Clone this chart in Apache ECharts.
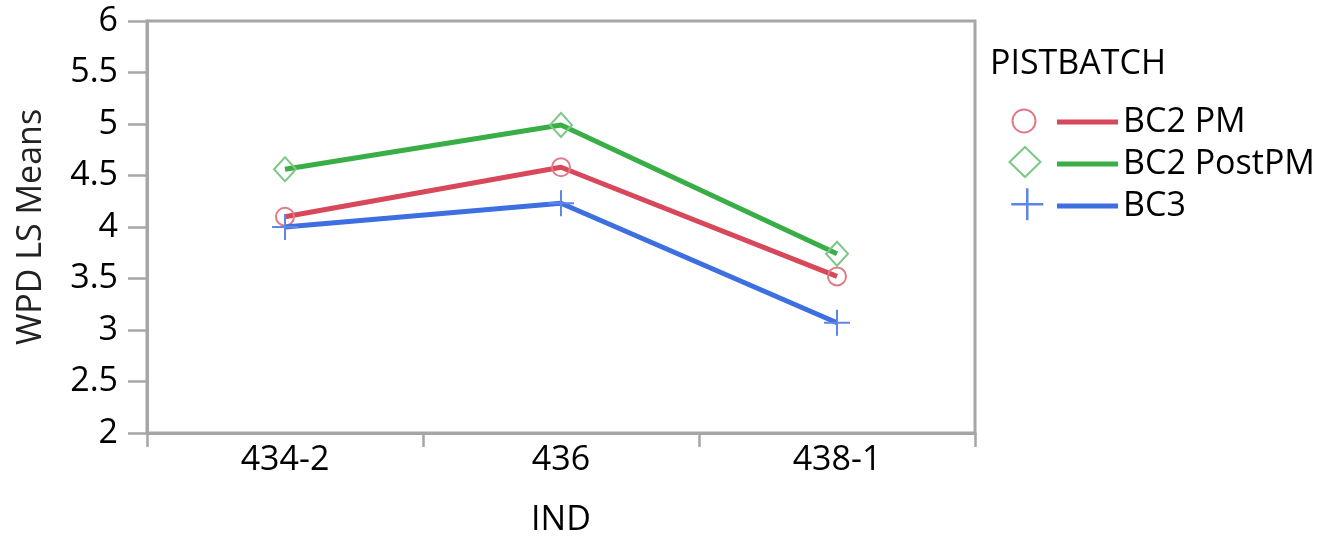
<!DOCTYPE html>
<html>
<head>
<meta charset="utf-8">
<script src="https://cdn.jsdelivr.net/npm/echarts@6/dist/echarts.min.js"></script>
<style>
html,body{margin:0;padding:0;background:#fff;}
#chart{width:1318px;height:536px;}
</style>
</head>
<body>
<div id="chart"></div>
<script>
// ---- data ----
var categories = ['434-2', '436', '438-1'];
var seriesNames = ['BC2 PM', 'BC2 PostPM', 'BC3'];
var bc2pm = [4.10, 4.58, 3.52];
var bc2postpm = [4.56, 4.99, 3.74];
var bc3 = [4.00, 4.23, 3.07];
var yTicks = { min: 2, max: 6, interval: 0.5 };
var legendTitle = 'PISTBATCH';
var xName = 'IND';
var yName = 'WPD LS Means';

// ---- styles ----
var FONT = '"Open Sans", "Noto Sans", sans-serif';
var FS = 34;
var AX = '#a6a6a6';
var lineColors = ['#d6485a', '#3aae46', '#3e6fe0'];
var markColors = ['#e07a86', '#7cc884', '#5f86e6'];
var plusPath = 'path://M0,10L20,10M10,0L10,20';
var symbols = ['circle', 'diamond', plusPath];
var symbolSizes = [18, [22, 24], 26];
var legendSym = [
  { w: 23, h: 23, left: 1011.5, top: 108.5 },
  { w: 31, h: 30, left: 1008.5, top: 146 },
  { w: 32, h: 32, left: 1010, top: 187 }
];
var values = [bc2pm, bc2postpm, bc3];

var chart = echarts.init(document.getElementById('chart'), null, { renderer: 'canvas' });

var series = seriesNames.map(function (n, i) {
  return {
    name: n,
    type: 'line',
    data: values[i],
    symbol: symbols[i],
    symbolSize: symbolSizes[i],
    showAllSymbol: true,
    lineStyle: { color: lineColors[i], width: 5 },
    itemStyle: { color: 'transparent', borderColor: markColors[i], borderWidth: 2 },
    emphasis: { disabled: true },
    z: 2 + i
  };
});

var legends = seriesNames.map(function (n, i) {
  var s = legendSym[i];
  return {
    show: true,
    left: s.left, top: s.top,
    padding: 0,
    itemWidth: s.w, itemHeight: s.h,
    selectedMode: false,
    formatter: function () { return ''; },
    textStyle: { fontSize: 1, padding: 0 },
    data: [{
      name: n,
      icon: symbols[i],
      itemStyle: { color: 'transparent', borderColor: markColors[i], borderWidth: i === 2 ? 2.5 : 2 }
    }]
  };
});
legends.push({
  show: true,
  orient: 'vertical',
  left: 1057, top: 105,
  padding: 0,
  itemWidth: 61, itemHeight: 5,
  itemGap: 8,
  selectedMode: false,
  textStyle: { fontFamily: FONT, fontSize: FS, color: '#000', lineHeight: 34, padding: [0, 0, 0, 0] },
  data: seriesNames.map(function (n, i) {
    return { name: n, icon: 'rect', itemStyle: { color: lineColors[i], borderWidth: 0 } };
  })
});

chart.setOption({
  animation: false,
  backgroundColor: '#fff',
  title: {
    text: legendTitle,
    left: 990, top: 47,
    padding: 0,
    textStyle: { fontFamily: FONT, fontSize: FS, fontWeight: 'normal', color: '#000' }
  },
  legend: legends,
  grid: {
    left: 147, right: 343, top: 21, bottom: 103,
    show: true, borderColor: AX, borderWidth: 3, backgroundColor: '#fff',
    containLabel: false,
    outerBoundsMode: 'none'
  },
  xAxis: {
    type: 'category',
    data: categories,
    boundaryGap: true,
    name: xName,
    nameLocation: 'middle',
    nameGap: 70,
    nameTextStyle: { fontFamily: FONT, fontSize: FS, color: '#000' },
    axisLine: { show: true, lineStyle: { color: AX, width: 3 } },
    axisTick: { show: true, length: 14, lineStyle: { color: AX, width: 2.5 } },
    axisLabel: { fontFamily: FONT, fontSize: FS, color: '#000', margin: 10 },
    splitLine: { show: false }
  },
  yAxis: {
    type: 'value',
    min: yTicks.min, max: yTicks.max, interval: yTicks.interval,
    name: yName,
    nameLocation: 'middle',
    nameGap: 99,
    nameTextStyle: { fontFamily: FONT, fontSize: FS, color: '#222' },
    axisLine: { show: true, lineStyle: { color: AX, width: 3 } },
    axisTick: { show: true, length: 19, lineStyle: { color: AX, width: 2.5 } },
    axisLabel: { fontFamily: FONT, fontSize: FS, color: '#000', margin: 29 },
    splitLine: { show: false }
  },
  series: series
});
</script>
</body>
</html>
